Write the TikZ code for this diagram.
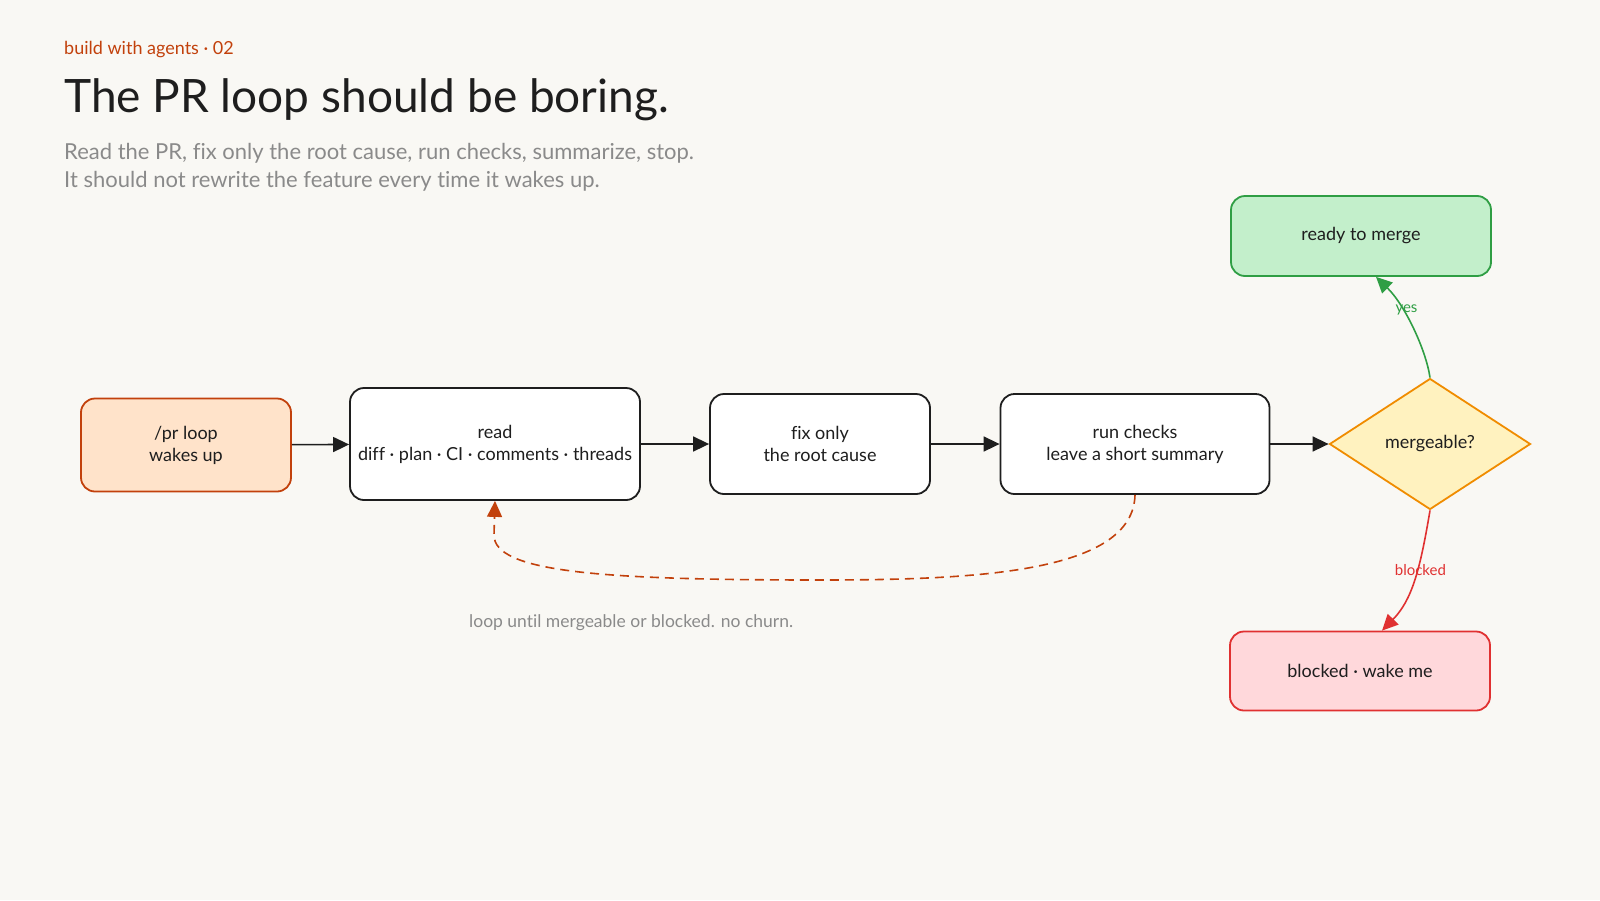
\documentclass[tikz,border=0pt]{standalone}
\usepackage{fontspec}
\setmainfont{Lato}[Ligatures=NoCommon]
\usetikzlibrary{arrows.meta,shapes.geometric}
\definecolor{bg}{HTML}{F9F8F4}
\definecolor{ink}{HTML}{1E1E1E}
\definecolor{rust}{HTML}{C2410C}
\definecolor{peach}{HTML}{FFE3CA}
\definecolor{grn}{HTML}{2F9E44}
\definecolor{grnfill}{HTML}{C3EFCB}
\definecolor{rd}{HTML}{E03131}
\definecolor{rdfill}{HTML}{FFD8DB}
\definecolor{yel}{HTML}{FFF2BF}
\definecolor{org}{HTML}{F08C00}
\definecolor{muted}{HTML}{8A8A8A}
\begin{document}
\begin{tikzpicture}[x=1pt,y=-1pt,
  box/.style={draw=ink, line width=1.8pt, fill=white, rounded corners=14pt, align=center,
    font=\fontsize{18}{22}\selectfont, text=ink, inner sep=0pt},
  tip/.style={-{Triangle[length=16pt,width=15pt]}},
  flow/.style={draw=ink, line width=1.6pt, tip},
  edgelabel/.style={font=\fontsize{15}{17}\selectfont, inner sep=1pt},
]
\fill[bg] (0,0) rectangle (1600,900);
\useasboundingbox (0,0) rectangle (1600,900);

% header texts
\node[anchor=base west, text=rust, font=\fontsize{18}{20}\selectfont, inner sep=0pt] (kicker) at (64,54) {build with agents · 02};
\node[anchor=base west, text=ink, font=\fontsize{46}{52}\selectfont, inner sep=0pt] (title) at (64,112) {The PR loop should be boring.};
\node[anchor=base west, text=muted, font=\fontsize{22}{27}\selectfont, inner sep=0pt] (sub1) at (64,159) {Read the PR, fix only the root cause, run checks, summarize, stop.};
\node[anchor=base west, text=muted, font=\fontsize{22}{27}\selectfont, inner sep=0pt] (sub2) at (64,187) {It should not rewrite the feature every time it wakes up.};

% nodes
\node[box, draw=rust, fill=peach, minimum width=210pt, minimum height=93pt] (pr) at (186,445) {/pr loop\\wakes up};
\node[box, minimum width=290pt, minimum height=112pt] (read) at (495,444) {read\\diff · plan · CI · comments · threads};
\node[box, minimum width=220pt, minimum height=100pt] (fix) at (820,444) {fix only\\the root cause};
\node[box, minimum width=269pt, minimum height=100pt] (run) at (1135,444) {run checks\\leave a short summary};
\node[diamond, draw=org, fill=yel, line width=1.8pt, minimum width=201pt, minimum height=131pt,
      inner sep=0pt, text=ink, font=\fontsize{18}{20}\selectfont] (dia) at (1430,444) {mergeable?};
\node[box, draw=grn, fill=grnfill, minimum width=260pt, minimum height=80pt] (ready) at (1361,236) {ready to merge};
\node[box, draw=rd, fill=rdfill, minimum width=260pt, minimum height=79pt] (blocked) at (1360,671) {blocked · wake me};

% main flow
\draw[flow] (pr) -- (read);
\draw[flow] (read) -- (fix);
\draw[flow] (fix) -- (run);
\draw[flow] (run) -- (dia);

% decisions
\draw[draw=grn, line width=1.6pt, tip]
  (dia.north) .. controls (1426,350) and (1405,305) .. ([xshift=15pt]ready.south)
  node[pos=0.66, edgelabel, text=grn, xshift=4pt] (yeslbl) {yes};
\draw[draw=rd, line width=1.6pt, tip]
  (dia.south) .. controls (1420,570) and (1412,600) .. ([xshift=22pt]blocked.north)
  node[pos=0.4, edgelabel, text=rd, xshift=3pt] (blklbl) {blocked};

% loop back
\draw[draw=rust, line width=1.6pt, dash pattern=on 9pt off 6pt, tip]
  (run.south) .. controls (1133,572) and (980,580) .. (820,580)
  .. controls (600,580) and (494,572) .. (494,535) -- (read.south);

\node[anchor=base west, text=muted, font=\fontsize{17.5}{20}\selectfont, inner sep=0pt] (looplbl) at (469,627) {loop until mergeable or blocked. no churn.};
\end{tikzpicture}
\end{document}
